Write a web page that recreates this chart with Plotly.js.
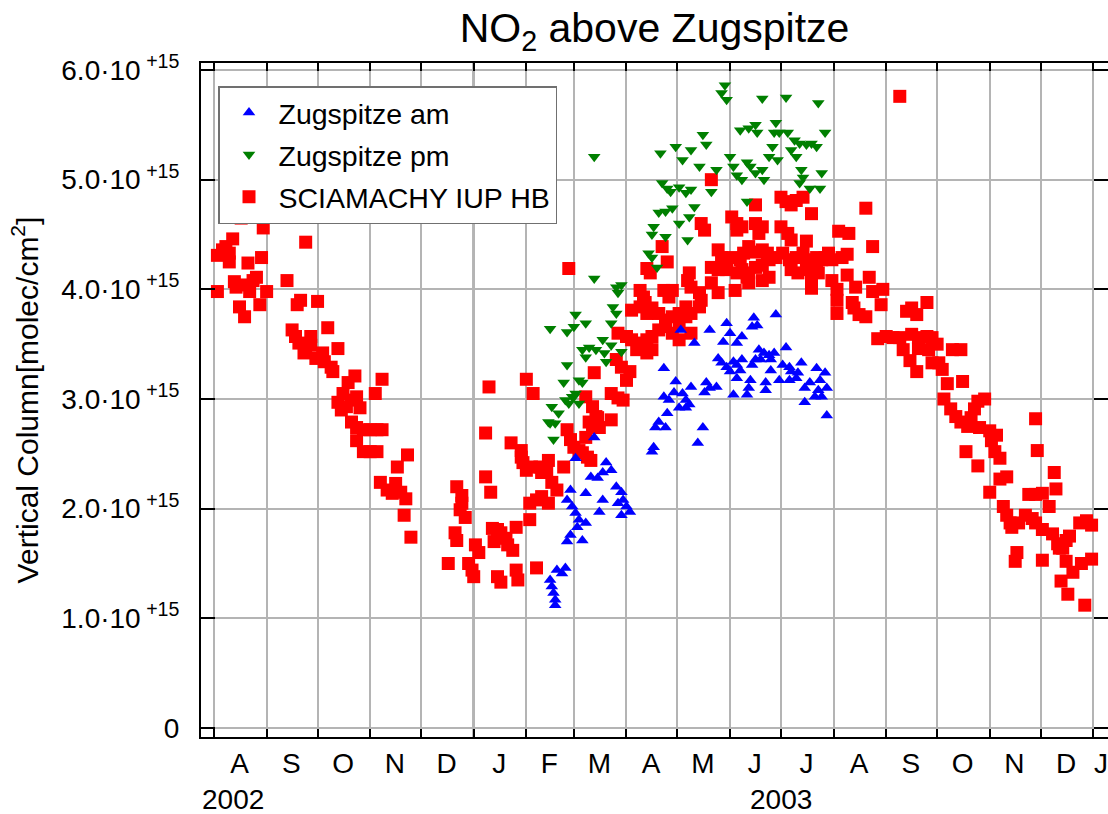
<!DOCTYPE html>
<html>
<head>
<meta charset="utf-8">
<script src="https://cdn.plot.ly/plotly-3.0.1.min.js"></script>
<style>
html,body{margin:0;padding:0;background:#fff;overflow:hidden}
#chart{width:1108px;height:814px}
</style>
</head>
<body>
<div id="chart"></div>
<script>
// ---- values in units of 1e15 molec/cm2 ----
const amSeries = [
['2003-02-15',1.35],['2003-02-16',1.29],['2003-02-17',1.23],['2003-02-18',1.17],['2003-02-18',1.12],['2003-02-19',1.44],
['2003-02-22',1.41],['2003-02-24',1.46],['2003-02-25',1.70],['2003-02-27',1.76],['2003-02-25',2.08],['2003-02-27',2.17],
['2003-02-28',2.02],['2003-03-02',2.46],['2003-03-02',1.96],['2003-03-04',1.90],['2003-03-03',1.83],['2003-03-06',1.71],
['2003-03-08',2.14],['2003-03-08',1.87],['2003-03-11',2.29],['2003-03-13',2.65],['2003-03-15',2.28],['2003-03-16',1.97],
['2003-03-18',2.08],['2003-03-18',2.33],['2003-03-20',2.42],['2003-03-23',2.35],['2003-03-26',2.20],['2003-03-27',2.05],
['2003-03-29',2.15],['2003-03-29',1.94],['2003-03-30',2.08],['2003-04-01',2.02],['2003-04-03',1.97],
['2003-04-16',2.52],['2003-04-17',2.56],['2003-04-18',2.74],['2003-04-20',2.79],['2003-04-23',3.28],['2003-04-23',3.02],
['2003-04-24',2.74],['2003-04-25',2.87],['2003-04-26',2.99],['2003-04-29',3.06],['2003-04-30',3.16],['2003-05-02',2.92],
['2003-05-03',3.63],['2003-05-04',3.05],['2003-05-06',2.99],['2003-05-06',2.92],['2003-05-08',2.95],['2003-05-09',3.11],
['2003-05-11',3.51],['2003-05-13',2.60],['2003-05-16',2.74],['2003-05-17',3.06],['2003-05-18',3.15],['2003-05-20',3.63],
['2003-05-20',3.10],['2003-05-24',3.11],['2003-05-25',3.37],['2003-05-27',3.33],['2003-05-28',3.52],['2003-05-30',3.29],
['2003-05-30',3.69],['2003-06-01',3.60],['2003-06-01',3.25],['2003-06-03',3.34],['2003-06-03',3.04],['2003-06-05',3.19],
['2003-06-05',3.51],['2003-06-05',3.31],['2003-06-07',3.26],['2003-06-08',3.36],['2003-06-08',3.57],['2003-06-11',3.04],
['2003-06-12',3.10],['2003-06-13',3.17],['2003-06-14',3.66],['2003-06-14',3.31],['2003-06-15',3.74],['2003-06-16',3.36],
['2003-06-17',3.67],['2003-06-18',3.45],['2003-06-19',3.36],['2003-06-21',3.42],['2003-06-22',3.08],['2003-06-22',3.15],
['2003-06-24',3.40],['2003-06-25',3.36],['2003-06-25',3.26],['2003-06-27',3.42],['2003-06-28',3.77],['2003-06-30',3.17],
['2003-07-02',3.31],['2003-07-04',3.47],['2003-07-06',3.29],['2003-07-06',3.17],['2003-07-07',3.25],['2003-07-10',3.19],
['2003-07-11',3.24],['2003-07-13',3.33],['2003-07-15',3.10],['2003-07-15',2.97],['2003-07-18',3.15],['2003-07-21',3.02],
['2003-07-22',3.28],['2003-07-23',3.08],['2003-07-24',3.17],['2003-07-25',3.02],['2003-07-27',3.24],['2003-07-28',3.10],
['2003-07-28',2.85]
];
const pmSeries = [
['2003-02-14',2.79],['2003-02-15',2.78],['2003-02-15',3.64],['2003-02-16',2.93],['2003-02-17',2.63],['2003-02-18',2.78],
['2003-02-20',2.87],['2003-02-23',3.15],['2003-02-24',2.99],['2003-02-25',3.61],['2003-02-25',3.31],['2003-02-26',2.96],
['2003-02-28',3.02],['2003-03-01',3.66],['2003-03-01',3.02],['2003-03-02',3.77],['2003-03-02',3.05],['2003-03-04',3.17],
['2003-03-04',2.96],['2003-03-06',3.45],['2003-03-06',3.15],['2003-03-08',3.69],['2003-03-08',3.38],['2003-03-10',3.47],
['2003-03-13',5.21],['2003-03-13',4.10],['2003-03-14',3.45],['2003-03-18',3.54],['2003-03-19',3.42],['2003-03-20',3.34],
['2003-03-23',3.49],['2003-03-23',3.69],['2003-03-24',3.84],['2003-03-26',4.02],['2003-03-26',3.78],['2003-03-27',3.97],
['2003-03-29',4.04],['2003-03-29',3.43],
['2003-04-14',4.33],['2003-04-16',4.50],['2003-04-16',4.29],['2003-04-17',4.57],['2003-04-19',4.20],['2003-04-20',4.70],
['2003-04-21',5.24],['2003-04-22',4.97],['2003-04-24',4.71],['2003-04-24',4.48],['2003-04-25',4.92],['2003-04-27',4.89],
['2003-04-28',4.74],['2003-04-30',5.30],['2003-05-02',4.93],['2003-05-02',4.60],['2003-05-04',5.18],['2003-05-06',4.88],
['2003-05-07',4.45],['2003-05-08',4.66],['2003-05-09',5.27],['2003-05-09',4.91],['2003-05-11',4.75],['2003-05-14',5.12],
['2003-05-16',5.41],['2003-05-18',5.32],['2003-05-21',4.89],['2003-05-24',5.09],['2003-05-27',5.79],['2003-05-29',5.86],
['2003-05-30',5.73],['2003-06-01',5.21],['2003-06-03',5.12],['2003-06-05',5.04],['2003-06-07',5.45],['2003-06-08',5.00],
['2003-06-11',5.16],['2003-06-11',4.80],['2003-06-12',5.47],['2003-06-13',5.12],['2003-06-16',5.50],['2003-06-16',5.06],
['2003-06-17',5.43],['2003-06-20',5.74],['2003-06-20',5.09],['2003-06-21',5.00],['2003-06-24',5.21],['2003-06-26',5.30],
['2003-06-27',5.43],['2003-06-28',5.52],['2003-06-29',5.18],['2003-06-30',5.43],['2003-07-04',5.75],['2003-07-05',5.43],
['2003-07-07',5.27],['2003-07-09',5.36],['2003-07-10',5.21],['2003-07-12',5.33],['2003-07-12',4.97],['2003-07-13',5.09],
['2003-07-14',5.02],['2003-07-16',5.32],['2003-07-18',4.92],['2003-07-19',5.33],['2003-07-22',5.30],['2003-07-23',5.70],
['2003-07-24',4.92],['2003-07-25',5.06],['2003-07-27',5.43]
];
const sciamachySeries = [
['2002-08-03',3.98],['2002-08-03',4.31],['2002-08-06',4.36],['2002-08-08',4.39],['2002-08-10',4.33],['2002-08-10',4.25],
['2002-08-12',4.46],['2002-08-13',4.07],['2002-08-14',4.02],['2002-08-16',3.84],['2002-08-17',4.04],['2002-08-17',4.65],
['2002-08-19',3.75],['2002-08-21',4.24],['2002-08-22',3.98],['2002-08-24',4.08],['2002-08-26',4.11],['2002-08-28',3.86],
['2002-08-29',4.29],['2002-08-30',4.56],['2002-09-01',3.98],['2002-09-13',4.08],['2002-09-16',3.63],['2002-09-18',3.57],
['2002-09-19',3.86],['2002-09-20',3.51],['2002-09-21',3.90],['2002-09-23',3.42],['2002-09-24',4.43],['2002-09-24',3.46],
['2002-09-27',3.57],['2002-09-27',3.49],['2002-09-30',3.37],['2002-10-01',3.89],['2002-10-04',3.42],['2002-10-05',3.34],
['2002-10-07',3.65],['2002-10-09',3.29],['2002-10-10',3.25],['2002-10-13',3.46],['2002-10-13',2.97],['2002-10-15',2.90],
['2002-10-16',3.05],['2002-10-18',2.93],['2002-10-19',3.15],['2002-10-21',2.99],['2002-10-21',2.79],['2002-10-23',3.21],
['2002-10-24',3.02],['2002-10-24',2.74],['2002-10-24',2.62],['2002-10-26',2.92],['2002-10-28',2.72],['2002-10-28',2.52],
['2002-11-01',2.72],['2002-11-01',2.52],['2002-11-04',3.05],['2002-11-05',2.72],['2002-11-05',2.52],['2002-11-08',2.72],
['2002-11-08',3.18],['2002-11-07',2.24],['2002-11-11',2.17],['2002-11-14',2.14],['2002-11-16',2.23],['2002-11-17',2.38],
['2002-11-19',2.15],['2002-11-22',2.09],['2002-11-23',2.49],['2002-11-21',1.94],['2002-11-25',1.74],['2002-12-17',1.50],
['2002-12-22',2.20],['2002-12-25',2.12],['2002-12-25',2.05],['2002-12-24',1.99],['2002-12-27',1.92],['2002-12-21',1.78],
['2002-12-22',1.71],['2002-12-29',1.50],['2002-12-31',1.44],
['2003-01-01',1.38],['2003-01-02',1.67],['2003-01-04',1.60],['2003-01-08',2.69],['2003-01-08',2.29],['2003-01-10',3.11],
['2003-01-11',2.15],['2003-01-12',1.82],['2003-01-13',1.70],['2003-01-15',1.81],['2003-01-15',1.38],['2003-01-17',1.33],
['2003-01-17',1.78],['2003-01-20',1.73],['2003-01-21',1.67],['2003-01-23',2.60],['2003-01-24',1.62],['2003-01-26',1.83],
['2003-01-26',1.44],['2003-01-27',1.35],['2003-01-29',2.53],['2003-01-29',2.47],['2003-01-30',2.42],['2003-02-01',3.18],
['2003-02-01',2.35],['2003-02-03',2.05],['2003-02-03',1.90],['2003-02-04',2.38],['2003-02-05',3.05],['2003-02-07',2.08],
['2003-02-07',1.46],['2003-02-09',2.38],['2003-02-10',2.33],['2003-02-10',2.11],['2003-02-13',2.35],['2003-02-14',2.44],
['2003-02-14',2.05],['2003-02-16',2.24],['2003-02-19',2.17],['2003-02-23',2.38],['2003-02-26',4.19],['2003-02-25',2.72],
['2003-02-27',2.63],['2003-03-01',2.56],['2003-03-04',2.53],['2003-03-06',2.51],['2003-03-09',2.47],['2003-03-11',2.44],
['2003-03-08',2.65],['2003-03-08',3.02],['2003-03-10',2.79],['2003-03-12',2.74],['2003-03-12',2.93],['2003-03-13',3.24],
['2003-03-14',2.84],['2003-03-15',2.83],['2003-03-16',2.74],['2003-03-23',3.05],['2003-03-23',2.81],['2003-03-26',3.36],
['2003-03-27',3.01],['2003-03-27',3.60],['2003-03-29',3.29],['2003-03-30',2.99],['2003-04-01',3.17],['2003-04-03',3.25],
['2003-04-01',3.57],['2003-04-04',3.54],['2003-04-04',3.81],['2003-04-07',3.45],['2003-04-09',3.51],['2003-04-09',3.84],
['2003-04-09',3.99],['2003-04-11',3.93],['2003-04-12',3.88],['2003-04-13',4.19],['2003-04-13',3.78],['2003-04-13',3.54],
['2003-04-13',3.42],['2003-04-15',4.15],['2003-04-16',3.83],['2003-04-16',3.57],['2003-04-16',3.45],['2003-04-20',3.78],
['2003-04-20',3.63],['2003-04-22',4.39],['2003-04-23',3.99],['2003-04-24',3.72],['2003-04-24',3.66],['2003-04-25',4.25],
['2003-04-26',3.93],['2003-04-28',3.99],['2003-04-28',3.75],['2003-04-28',3.60],['2003-05-02',3.78],['2003-05-02',3.69],
['2003-05-02',3.54],['2003-05-06',3.84],['2003-05-06',3.75],['2003-05-07',4.08],['2003-05-08',4.15],['2003-05-09',4.02],
['2003-05-09',3.78],['2003-05-09',3.60],['2003-05-14',3.97],['2003-05-15',3.90],['2003-05-14',3.84],['2003-05-15',4.60],
['2003-05-17',4.54],['2003-05-21',5.00],['2003-05-21',4.20],['2003-05-21',4.06],['2003-05-25',4.36],['2003-05-25',4.18],
['2003-05-25',3.97],['2003-05-27',4.29],['2003-05-30',4.27],['2003-05-30',4.18],['2003-06-02',4.66],['2003-06-02',4.29],
['2003-06-04',3.99],['2003-06-05',4.15],['2003-06-05',4.54],['2003-06-05',4.60],['2003-06-07',4.27],['2003-06-08',4.57],
['2003-06-08',4.18],['2003-06-09',4.33],['2003-06-11',4.11],['2003-06-12',4.39],['2003-06-12',4.15],['2003-06-12',4.06],
['2003-06-16',4.77],['2003-06-16',4.60],['2003-06-16',4.34],['2003-06-16',4.20],['2003-06-18',4.51],['2003-06-20',4.57],
['2003-06-20',4.36],['2003-06-20',4.22],['2003-06-20',4.08],['2003-06-23',4.33],['2003-06-24',4.27],['2003-06-24',4.11],
['2003-06-28',4.29],['2003-07-01',4.84],['2003-07-01',4.57],['2003-07-02',4.33],['2003-07-04',4.80],['2003-07-05',4.51],
['2003-07-06',4.27],['2003-07-07',4.45],['2003-07-07',4.77],['2003-07-07',4.18],['2003-07-10',4.29],['2003-07-10',4.81],
['2003-07-11',4.15],['2003-07-14',4.84],['2003-07-14',4.33],['2003-07-16',4.44],['2003-07-16',4.18],['2003-07-17',4.27],
['2003-07-19',4.01],['2003-07-19',4.69],['2003-07-19',4.11],['2003-07-22',4.29],['2003-07-22',4.21],['2003-07-23',4.15],
['2003-07-25',4.27],['2003-07-27',4.29],['2003-07-29',4.33],['2003-07-31',4.27],['2003-07-31',4.08],['2003-08-03',4.00],
['2003-08-03',3.90],['2003-08-03',3.78],['2003-08-04',4.53],['2003-08-06',4.29],['2003-08-09',4.32],['2003-08-09',4.13],
['2003-08-10',4.51],['2003-08-12',3.88],['2003-08-13',3.83],['2003-08-14',4.02],['2003-08-16',3.77],['2003-08-20',3.75],
['2003-08-20',4.74],['2003-08-22',4.11],['2003-08-24',4.39],['2003-08-24',3.98],['2003-08-27',3.55],['2003-08-29',3.86],
['2003-08-30',4.00],['2003-09-01',3.57],['2003-09-05',3.56],['2003-09-09',3.56],['2003-09-09',5.76],['2003-09-11',3.45],
['2003-09-13',3.80],['2003-09-15',3.35],['2003-09-16',3.83],['2003-09-16',3.59],['2003-09-19',3.25],['2003-09-19',3.77],
['2003-09-20',3.56],['2003-09-20',3.46],['2003-09-25',3.88],['2003-09-25',3.57],['2003-09-26',3.45],['2003-09-28',3.56],
['2003-09-28',3.33],['2003-10-01',3.50],['2003-10-02',3.33],['2003-10-04',3.27],['2003-10-05',3.00],['2003-10-07',3.14],
['2003-10-09',2.91],['2003-10-10',3.45],['2003-10-12',2.84],['2003-10-15',3.45],['2003-10-15',2.79],['2003-10-16',3.16],
['2003-10-18',2.52],['2003-10-19',2.75],['2003-10-21',2.83],['2003-10-23',2.91],['2003-10-25',2.39],['2003-10-25',2.98],
['2003-10-26',2.74],['2003-10-29',3.00],['2003-11-01',2.71],['2003-11-01',2.15],['2003-11-02',2.62],['2003-11-04',2.52],
['2003-11-05',2.67],['2003-11-07',2.46],['2003-11-07',2.27],['2003-11-09',2.02],['2003-11-11',1.94],['2003-11-11',2.29],
['2003-11-13',1.87],['2003-11-14',1.83],['2003-11-16',1.52],['2003-11-17',1.60],['2003-11-18',1.87],['2003-11-22',1.94],
['2003-11-24',2.13],['2003-11-26',1.91],['2003-11-28',2.82],['2003-11-28',2.13],['2003-11-28',1.87],['2003-11-29',2.53],
['2003-12-02',1.81],['2003-12-02',2.14],['2003-12-02',1.53],['2003-12-06',2.02],['2003-12-08',1.77],['2003-12-09',2.33],
['2003-12-10',2.18],['2003-12-11',1.68],['2003-12-12',1.64],['2003-12-13',1.34],['2003-12-14',1.64],['2003-12-16',1.71],
['2003-12-16',1.52],['2003-12-17',1.22],['2003-12-18',1.75],['2003-12-20',1.42],['2003-12-24',1.87],['2003-12-25',1.50],
['2003-12-27',1.12],['2003-12-28',1.89],['2003-12-31',1.85],['2003-12-31',1.54]
];
const seriesNames = ['Zugspitze am','Zugspitze pm','SCIAMACHY IUP HB'];
const monthTickDates = ['2002-08-16','2002-09-15 12:00','2002-10-16','2002-11-15 12:00','2002-12-16',
  '2003-01-16','2003-02-14 12:00','2003-03-16','2003-04-15 12:00','2003-05-16','2003-06-15 12:00','2003-07-16',
  '2003-08-16','2003-09-15 12:00','2003-10-16','2003-11-15 12:00','2003-12-16','2004-01-05 12:00'];
const monthTickText = ['A','S','O','N','D','J','F','M','A','M','J','J','A','S','O','N','D','J'];
const yTickValues = [0,1,2,3,4,5,6];
const yTickText = ['0','1.0·10<sup> +15</sup>','2.0·10<sup> +15</sup>','3.0·10<sup> +15</sup>','4.0·10<sup> +15</sup>','5.0·10<sup> +15</sup>','6.0·10<sup> +15</sup>'];
const yearLabels = [['2002','2002-08-12'],['2003','2003-07-01']];

const SCALE = 1e15;
function mk(series, name, symbol, color, size, rank){
  return {type:'scatter', mode:'markers', name:name,
    x: series.map(p=>p[0]), y: series.map(p=>p[1]*SCALE),
    marker:{symbol:symbol, color:color, size:size, line:{width:0}},
    legendrank: rank, legendgroup: name, cliponaxis: true};
}
const traces = [
  mk(sciamachySeries, seriesNames[2], 'square', '#ff0000', 13, 3),
  mk(amSeries, seriesNames[0], 'triangle-up', '#0000ff', 11, 1),
  mk(pmSeries, seriesNames[1], 'triangle-down', '#007f00', 11, 2)
];

const gridC = '#b4b4b4';
const layout = {
  width:1108, height:814,
  margin:{l:201, r:0, t:63, b:77},
  paper_bgcolor:'#ffffff', plot_bgcolor:'#ffffff',
  font:{family:'"Liberation Sans", Arial, sans-serif', color:'#000'},
  showlegend:true,
  title:{text:'NO<sub>2</sub> above Zugspitze', font:{size:41, color:'#000'},
    x:0.5, xref:'paper', xanchor:'center', y:1-28/814, yref:'container', yanchor:'middle'},
  xaxis:{type:'date', range:['2002-07-24 08:00','2004-01-09 16:00'],
    tickmode:'array', tickvals:monthTickDates, ticktext:monthTickText,
    ticks:'', showgrid:false, zeroline:false,
    showline:true, linecolor:'#000', linewidth:2, mirror:'ticks',
    tickfont:{size:28}, ticklabelstandoff:0,
    minor:{tick0:'2002-08-01', dtick:'M1', showgrid:true, gridcolor:gridC, gridwidth:2,
      ticks:'inside', ticklen:8, tickwidth:2, tickcolor:'#000'}},
  yaxis:{range:[-0.082*SCALE, 6.064*SCALE], tickmode:'array',
    tickvals:yTickValues.map(v=>v*SCALE), ticktext:yTickText,
    ticks:'inside', ticklen:14, tickwidth:2, tickcolor:'#000',
    showline:true, linecolor:'#000', linewidth:2, mirror:'ticks',
    showgrid:true, gridcolor:gridC, gridwidth:2, zeroline:false,
    tickfont:{size:28}, ticklabelstandoff:14,
    title:{text:'Vertical Column[molec/cm<sup>2</sup>]', font:{size:30}, standoff:14}},
  legend:{x:(218-201)/907, y:(737-86)/674, xanchor:'left', yanchor:'top',
    bgcolor:'#ffffff', bordercolor:'#707070', borderwidth:1.5,
    font:{size:28.5}, traceorder:'grouped', tracegroupgap:2, itemwidth:49},
  shapes:[{type:'line', xref:'x', yref:'paper', x0:'2003-01-01', x1:'2003-01-01', y0:0, y1:1,
    line:{color:'#000', width:2}, layer:'between'}],
  annotations: yearLabels.map(l=>({text:l[0], x:l[1], xref:'x', y:(737-799)/674, yref:'paper',
    showarrow:false, font:{size:28}, xanchor:'center', yanchor:'middle'}))
};
Plotly.newPlot('chart', traces, layout, {displayModeBar:false, staticPlot:true});
</script>
</body>
</html>
